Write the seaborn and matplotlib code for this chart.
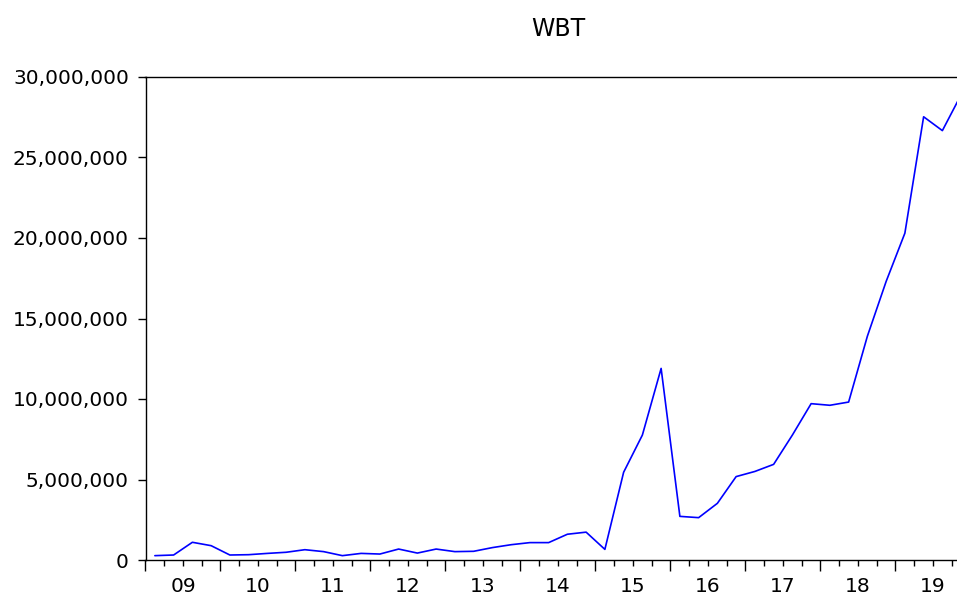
import numpy as np
import pandas as pd
import matplotlib
matplotlib.use("Agg")
import matplotlib.pyplot as plt
import seaborn as sns
from matplotlib.ticker import FixedLocator, FuncFormatter

# ---- data (quarterly, 2009Q1 .. 2019Q4) ----
quarters = [f"{y}Q{q}" for y in range(2009, 2020) for q in range(1, 5)]
wbt = [
    0.27e6, 0.31e6, 1.10e6, 0.89e6,      # 2009
    0.31e6, 0.33e6, 0.41e6, 0.48e6,      # 2010
    0.64e6, 0.52e6, 0.27e6, 0.41e6,      # 2011
    0.37e6, 0.68e6, 0.43e6, 0.68e6,      # 2012
    0.52e6, 0.54e6, 0.77e6, 0.95e6,      # 2013
    1.08e6, 1.08e6, 1.60e6, 1.73e6,      # 2014
    0.66e6, 5.45e6, 7.76e6, 11.90e6,     # 2015
    2.71e6, 2.63e6, 3.52e6, 5.18e6,      # 2016
    5.50e6, 5.94e6, 7.76e6, 9.71e6,      # 2017
    9.61e6, 9.81e6, 13.90e6, 17.30e6,    # 2018
    20.30e6, 27.53e6, 26.67e6, 28.90e6,  # 2019
]
year_labels = ["09", "10", "11", "12", "13", "14", "15", "16", "17", "18", "19"]
y_ticks = [0, 5e6, 10e6, 15e6, 20e6, 25e6, 30e6]
title = "WBT"

# position of each quarter at the centre of its period (in years)
t = [int(q[:4]) + (int(q[-1]) - 0.5) / 4 for q in quarters]
df = pd.DataFrame({"t": t, "WBT": wbt})

sns.set_style("white")
plt.rcParams["font.family"] = ["DejaVu Sans"]
plt.rcParams["text.color"] = "black"
plt.rcParams["xtick.color"] = "black"
plt.rcParams["ytick.color"] = "black"

fig = plt.figure(figsize=(9.57, 5.96), dpi=100)
ax = fig.add_axes([145.5 / 957, 36 / 596, 825 / 957, 483 / 596])

sns.lineplot(data=df, x="t", y="WBT", ax=ax, color="#0000ff", linewidth=1.2)

ax.set_xlim(2009, 2020)
ax.set_ylim(0, 30e6)

# x axis: major ticks at year boundaries, minor at quarters, labels at year centres
ax.xaxis.set_major_locator(FixedLocator(list(range(2009, 2021))))
ax.xaxis.set_major_formatter(FuncFormatter(lambda v, p: ""))
minor = [y + f for y in range(2009, 2020) for f in (0.25, 0.5, 0.75)]
ax.xaxis.set_minor_locator(FixedLocator(minor))
lab_map = {2009 + i + 0.5: s for i, s in enumerate(year_labels)}
ax.xaxis.set_minor_formatter(FuncFormatter(lambda v, p: lab_map.get(round(v, 2), "")))

ax.set_yticks(y_ticks)
ax.yaxis.set_major_formatter(FuncFormatter(lambda v, p: f"{int(v):,}"))

ax.tick_params(axis="x", which="major", direction="out", length=8, width=1,
               color="black", bottom=True)
ax.tick_params(axis="x", which="minor", direction="out", length=4.2, width=1,
               color="black", labelcolor="black", bottom=True, labelsize=14.5, pad=8)
ax.tick_params(axis="y", which="major", direction="out", length=6, width=1,
               color="black", labelcolor="black", left=True, labelsize=14.5, pad=6)

for s in ["left", "top", "bottom"]:
    ax.spines[s].set_visible(True)
    ax.spines[s].set_color("black")
    ax.spines[s].set_linewidth(1)
ax.spines["right"].set_visible(False)

ax.set_xlabel("")
ax.set_ylabel("")
fig.text(558 / 957, 1 - 29 / 596, title, ha="center", va="center",
         fontsize=17, color="black")

fig.savefig("out.png", dpi=100)
